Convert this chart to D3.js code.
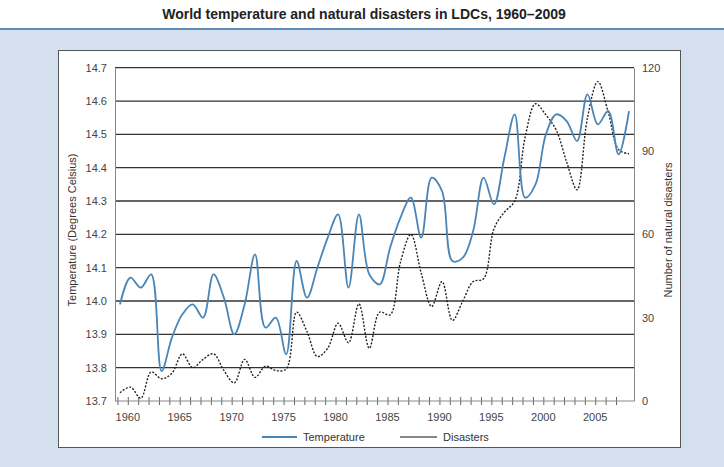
<!DOCTYPE html>
<html>
<head>
<meta charset="utf-8">
<script src="https://cdn.jsdelivr.net/npm/d3@7"></script>
<style>
  body { margin: 0; background: #fff; }
  svg { display: block; font-family: "Liberation Sans", Arial, sans-serif; }
</style>
</head>
<body>
<svg id="chart"></svg>
<script>
// data, one value per year
let years = d3.range(1960, 2010);
let temperature = [
	13.99, 14.07, 14.04, 14.08, 13.79, 13.89, 13.96, 13.99, 13.95, 14.08,
	14.01, 13.90, 13.99, 14.14, 13.92, 13.95, 13.84, 14.12, 14.01, 14.10,
	14.19, 14.26, 14.04, 14.26, 14.08, 14.05, 14.16, 14.25, 14.31, 14.19,
	14.37, 14.33, 14.12, 14.13, 14.21, 14.37, 14.29, 14.43, 14.56, 14.31,
	14.35, 14.50, 14.56, 14.54, 14.48, 14.62, 14.53, 14.57, 14.44, 14.57
];
let disasters = [
	3, 5, 1, 10.5, 8, 10, 17, 12, 15, 17,
	11, 6.5, 15, 8.5, 12.5, 11, 11.5, 32, 25, 16,
	19, 28, 21, 35, 19, 32, 31, 50, 60, 46,
	34, 43, 29, 36, 43, 44, 62, 68, 72, 95,
	107, 103, 97.5, 86, 76, 102, 115, 104, 90.5, 89
];
let tempTicks = [13.7, 13.8, 13.9, 14.0, 14.1, 14.2, 14.3, 14.4, 14.5, 14.6, 14.7];
let disTicks = [0, 30, 60, 90, 120];
let yearLabels = [1960, 1965, 1970, 1975, 1980, 1985, 1990, 1995, 2000, 2005];

function makeChart() {
	let w = 724;
	let h = 467;

	let svg = d3.select('#chart')
		.attr('width', w)
		.attr('height', h);

	// page background
	svg.append('rect').attr('x', 0).attr('y', 29).attr('width', w).attr('height', h - 29)
		.style('fill', '#d5e0ef');
	svg.append('line').attr('x1', 0).attr('x2', w).attr('y1', 29).attr('y2', 29)
		.style('stroke', '#5d8db8').style('stroke-width', 2);
	svg.append('rect').attr('x', 58.5).attr('y', 50.5).attr('width', 622).attr('height', 397)
		.style('fill', '#fff').style('stroke', '#555').style('stroke-width', 1);

	svg.append('text')
		.attr('x', 364).attr('y', 19)
		.style('text-anchor', 'middle')
		.style('font-weight', 'bold')
		.style('font-size', '14px')
		.style('fill', '#222')
		.text('World temperature and natural disasters in LDCs, 1960\u20132009');

	let left = 115, right = 634, top = 67.7, bottom = 401;

	let x = d3.scaleLinear().domain([1960, 2009]).range([120, 629]);
	let yT = d3.scaleLinear().domain([13.7, 14.7]).range([bottom, top]);
	let yD = d3.scaleLinear().domain([0, 120]).range([bottom, top]);

	// gridlines
	svg.append('g')
		.selectAll('line')
		.data(tempTicks.slice(1))
		.enter()
		.append('line')
		.attr('x1', left).attr('x2', right)
		.attr('y1', d => yT(d)).attr('y2', d => yT(d))
		.style('stroke', '#333')
		.style('stroke-width', 1.3);

	// left axis
	let gl = svg.append('g')
		.attr('transform', `translate(${left},0)`)
		.call(d3.axisLeft(yT).tickValues(tempTicks).tickSize(0).tickPadding(8).tickFormat(d3.format('.1f')));
	gl.select('.domain').style('stroke', '#888');
	gl.selectAll('text').style('font-size', '11px').style('fill', '#444').attr('font-family', null);

	// right axis
	let gr = svg.append('g')
		.attr('transform', `translate(${right},0)`)
		.call(d3.axisRight(yD).tickValues(disTicks).tickSize(0).tickPadding(8));
	gr.select('.domain').style('stroke', '#888');
	gr.selectAll('text').style('font-size', '11px').style('fill', '#444').attr('font-family', null);

	// bottom axis, a tick every year crossing the line
	let gb = svg.append('g')
		.attr('transform', `translate(0,${bottom})`)
		.call(d3.axisBottom(x).tickValues(years.slice(0, 49).map(d => d - 0.25)).tickSize(0).tickFormat(''));
	gb.select('.domain').remove();
	gb.append('line').attr('x1', left).attr('x2', right)
		.style('stroke', '#888');
	gb.selectAll('.tick line').attr('y1', -4).attr('y2', 4).style('stroke', '#666');

	svg.append('g')
		.selectAll('text')
		.data(yearLabels)
		.enter()
		.append('text')
		.attr('x', d => x(d + 0.75))
		.attr('y', bottom + 20)
		.style('text-anchor', 'middle')
		.style('font-size', '11px')
		.style('fill', '#444')
		.text(d => d);

	// axis titles
	svg.append('text')
		.attr('transform', `translate(76,230) rotate(-90)`)
		.style('text-anchor', 'middle')
		.style('font-size', '11px')
		.style('fill', '#333')
		.text('Temperature (Degrees Celsius)');
	svg.append('text')
		.attr('transform', `translate(672,230) rotate(-90)`)
		.style('text-anchor', 'middle')
		.style('font-size', '11px')
		.style('fill', '#333')
		.text('Number of natural disasters');

	// lines
	let tempLine = d3.line()
		.x((d, i) => x(years[i]))
		.y(d => yT(d))
		.curve(d3.curveCatmullRom);
	let disLine = d3.line()
		.x((d, i) => x(years[i]))
		.y(d => yD(d))
		.curve(d3.curveCatmullRom);

	svg.append('path')
		.datum(disasters)
		.attr('d', disLine)
		.style('fill', 'none')
		.style('stroke', '#222')
		.style('stroke-width', 1.4)
		.style('stroke-dasharray', '2,1.6');

	svg.append('path')
		.datum(temperature)
		.attr('d', tempLine)
		.style('fill', 'none')
		.style('stroke', '#4a85b8')
		.style('stroke-width', 1.8);

	// legend
	let legend = svg.append('g');
	legend.append('line').attr('x1', 262).attr('x2', 297).attr('y1', 437).attr('y2', 437)
		.style('stroke', '#4a85b8').style('stroke-width', 1.8);
	legend.append('text').attr('x', 303).attr('y', 441)
		.style('font-size', '11px').style('fill', '#333').text('Temperature');
	legend.append('line').attr('x1', 400).attr('x2', 437).attr('y1', 437).attr('y2', 437)
		.style('stroke', '#111').style('stroke-width', 1.2);
	legend.append('text').attr('x', 443).attr('y', 441)
		.style('font-size', '11px').style('fill', '#333').text('Disasters');
}

window.onload = function () {
	makeChart();
}
</script>
</body>
</html>
